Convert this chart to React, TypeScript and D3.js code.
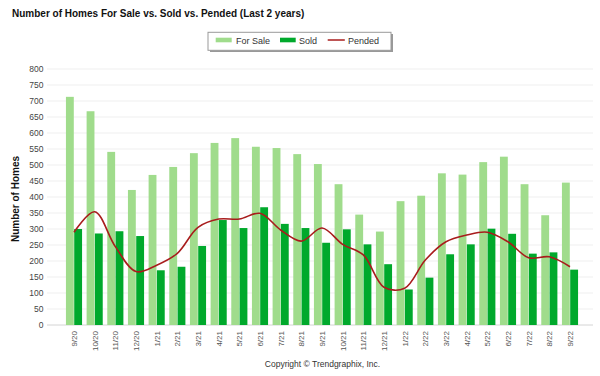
import React from "react";
import * as d3 from "d3";

const months = ["9/20","10/20","11/20","12/20","1/21","2/21","3/21","4/21","5/21","6/21","7/21","8/21","9/21","10/21","11/21","12/21","1/22","2/22","3/22","4/22","5/22","6/22","7/22","8/22","9/22"];
const forSale = [713,668,541,422,469,494,537,569,584,557,553,534,503,440,345,292,387,404,474,470,509,526,440,343,445];
const sold = [300,286,293,278,171,182,247,328,303,368,316,303,257,299,252,190,111,148,221,252,301,285,223,227,173];
const pended = [290,354,245,167,187,224,305,331,331,349,297,262,303,252,219,118,115,203,260,281,290,260,210,213,182];
const yTicks = d3.range(0, 801, 50);
const seriesNames = ["For Sale", "Sold"];

const W = 600, H = 376;
const C_SALE = "#a0dc8c";
const C_SOLD = "#00a92c";
const C_PEND = "#a81c1c";

export default function App() {
  const y = d3.scaleLinear().domain([0, 800]).range([325, 69]);
  const x0 = d3.scaleBand<string>().domain(months).range([63.67, 580.33]).paddingInner(0.22).paddingOuter(0.11);
  const x1 = d3.scaleBand<string>().domain(seriesNames).range([0, x0.bandwidth()]).paddingInner(0.05);
  const cx = (m: string) => (x0(m) as number) + x0.bandwidth() / 2;
  const line = d3.line<number>().x((_, i) => cx(months[i])).y(d => y(d)).curve(d3.curveCatmullRom.alpha(0.5));
  const font = "'Liberation Sans', Arial, sans-serif";
  return (
    <svg width={W} height={H} style={{ position: "absolute", left: 0, top: 0, background: "#fff" }} fontFamily={font}>
      <rect x={0} y={0} width={W} height={H} fill="#fff" />
      <text x={12} y={17} fontSize={10} fontWeight="bold" fill="#111">Number of Homes For Sale vs. Sold vs. Pended (Last 2 years)</text>
      {/* legend */}
      <rect x={210} y={34} width={183} height={18} fill="#999" />
      <rect x={208} y={32.3} width={183} height={18} fill="#fff" stroke="#9a9a9a" strokeWidth={1} />
      <rect x={215.7} y={37.7} width={16} height={4.6} fill={C_SALE} />
      <text x={236} y={43.5} fontSize={9} fill="#333">For Sale</text>
      <rect x={280} y={37.7} width={15.7} height={4.6} fill={C_SOLD} />
      <text x={299} y={43.5} fontSize={9} fill="#333">Sold</text>
      <line x1={327.7} x2={344.8} y1={40} y2={40} stroke={C_PEND} strokeWidth={1.5} />
      <text x={348} y={43.5} fontSize={9} fill="#333">Pended</text>
      {/* grid */}
      {yTicks.map(t => (
        <g key={t}>
          <line x1={47} x2={593} y1={y(t)} y2={y(t)} stroke={t === 0 ? "#d4d4d4" : "#efefef"} strokeWidth={1} />
          <text x={43.5} y={y(t) + 3} fontSize={8.5} textAnchor="end" fill="#444">{t}</text>
        </g>
      ))}
      <text transform={`translate(19,199) rotate(-90)`} fontSize={10} fontWeight="bold" textAnchor="middle" fill="#111">Number of Homes</text>
      {/* bars */}
      {months.map((m, i) => (
        <g key={m}>
          <rect x={(x0(m) as number) + (x1("For Sale") as number)} y={y(forSale[i])} width={x1.bandwidth()} height={y(0) - y(forSale[i])} fill={C_SALE} />
          <rect x={(x0(m) as number) + (x1("Sold") as number)} y={y(sold[i])} width={x1.bandwidth()} height={y(0) - y(sold[i])} fill={C_SOLD} />
          <text transform={`translate(${cx(m) + 3},331) rotate(-90)`} fontSize={8} textAnchor="end" fill="#555">{m}</text>
        </g>
      ))}
      <path d={line(pended) || ""} fill="none" stroke={C_PEND} strokeWidth={1.6} />
      <text x={322.5} y={366.5} fontSize={8.5} textAnchor="middle" fill="#333">Copyright © Trendgraphix, Inc.</text>
    </svg>
  );
}
